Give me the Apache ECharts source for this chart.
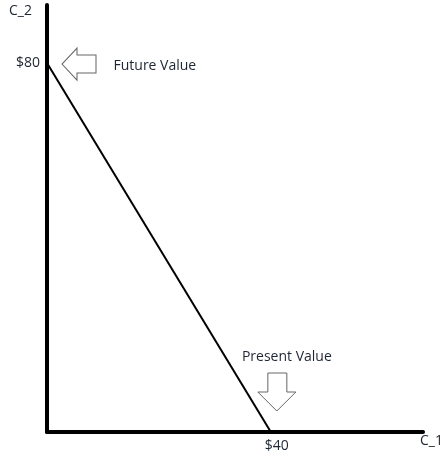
<!DOCTYPE html>
<html>
<head>
<meta charset="utf-8">
<script src="https://cdn.jsdelivr.net/npm/echarts@6/dist/echarts.min.js"></script>
<style>
  html, body { margin: 0; padding: 0; background: #fff; }
  #chart { width: 446px; height: 457px; }
</style>
</head>
<body>
<div id="chart"></div>
<script>
// budget line: all money spent today vs. all money tomorrow
const budgetLine = [[0, 80], [40, 0]];
const xTicks = [40];
const yTicks = [80];
const notes = [
  { name: 'Future Value', coord: [0, 80] },
  { name: 'Present Value', coord: [40, 0] }
];

const FONT = '"Open Sans", "Noto Sans", sans-serif';
const TEXT = '#1e2633';
// hollow block arrows drawn as path symbols
const LEFT_ARROW = 'path://M0,16 L15,0 L15,7 L34,7 L34,25 L15,25 L15,32 Z';
const DOWN_ARROW = 'path://M10,0 L29,0 L29,19 L38,19 L19,38 L0,19 L10,19 Z';

const chart = echarts.init(document.getElementById('chart'), null, { renderer: 'canvas' });

chart.setOption({
  animation: false,
  backgroundColor: '#fff',
  grid: { left: 47, right: 21, top: 5, bottom: 25, containLabel: false },
  xAxis: {
    type: 'value',
    min: 0,
    max: 67.2,
    name: 'C_1',
    nameLocation: 'end',
    nameGap: -3,
    nameTextStyle: { color: TEXT, fontSize: 14, fontFamily: FONT, verticalAlign: 'top', align: 'left', padding: [2, 0, 0, 0] },
    axisLine: { lineStyle: { color: '#000', width: 4 } },
    axisTick: { show: false },
    splitLine: { show: false },
    axisLabel: {
      customValues: xTicks,
      formatter: (v) => '$' + v,
      color: TEXT,
      fontSize: 14,
      fontFamily: FONT,
      margin: 7,
      padding: [0, 0, 0, 12]
    }
  },
  yAxis: {
    type: 'value',
    min: 0,
    max: 92.6,
    name: 'C_2',
    nameLocation: 'end',
    nameGap: -13,
    nameTextStyle: { color: TEXT, fontSize: 14, fontFamily: FONT, align: 'right', padding: [0, 15, 0, 0] },
    axisLine: { lineStyle: { color: '#000', width: 4 } },
    axisTick: { show: false },
    splitLine: { show: false },
    axisLabel: {
      customValues: yTicks,
      formatter: (v) => '$' + v,
      color: TEXT,
      fontSize: 14,
      fontFamily: FONT,
      margin: 7,
      padding: [0, 0, 6, 0]
    }
  },
  series: [{
    type: 'line',
    data: budgetLine,
    symbol: 'none',
    lineStyle: { color: '#000', width: 2 },
    markPoint: {
      silent: true,
      data: [
        {
          name: notes[0].name,
          coord: notes[0].coord,
          symbol: LEFT_ARROW,
          symbolSize: [34, 32],
          symbolOffset: [32, 1],
          itemStyle: { color: '#fff', borderColor: '#666', borderWidth: 1 },
          label: { show: true, position: 'right', distance: 17, offset: [0, 2], formatter: notes[0].name, color: TEXT, fontSize: 14, fontFamily: FONT }
        },
        {
          name: notes[1].name,
          coord: notes[1].coord,
          symbol: DOWN_ARROW,
          symbolSize: [38, 38],
          symbolOffset: [6, -40],
          itemStyle: { color: '#fff', borderColor: '#666', borderWidth: 1 },
          label: { show: true, position: 'top', distance: 8, offset: [10, 0], formatter: notes[1].name, color: TEXT, fontSize: 14, fontFamily: FONT }
        }
      ]
    }
  }]
});
</script>
</body>
</html>
